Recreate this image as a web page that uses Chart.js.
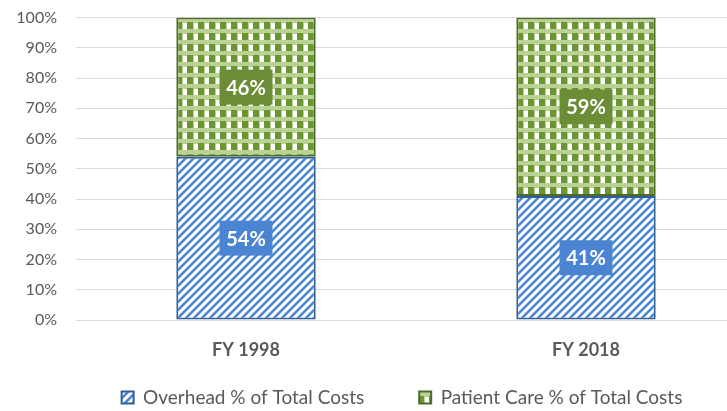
<!DOCTYPE html>
<html>
<head>
<meta charset="utf-8">
<script src="https://cdn.jsdelivr.net/npm/chart.js@4/dist/chart.umd.min.js"></script>
<style>
  html, body { margin: 0; padding: 0; background: #fff; overflow: hidden; }
  #wrap { width: 727px; height: 411px; overflow: hidden; }
</style>
</head>
<body>
<div id="wrap"><canvas id="costChart" width="756" height="411"></canvas></div>
<script>
// values
const years = ["FY 1998", "FY 2018"];
const overheadShare = [54, 41];
const patientCareShare = [46, 59];
const seriesNames = ["Overhead % of Total Costs", "Patient Care % of Total Costs"];

const FONT = "Lato, 'Open Sans', sans-serif";

// blue diagonal hatching
function stripePattern() {
  const c = document.createElement("canvas");
  c.width = 8; c.height = 8;
  const g = c.getContext("2d");
  g.fillStyle = "#ffffff";
  g.fillRect(0, 0, 8, 8);
  g.strokeStyle = "#4a86d0";
  g.lineWidth = 2.6;
  g.beginPath();
  g.moveTo(-2, 10); g.lineTo(10, -2);
  g.moveTo(-2, 2); g.lineTo(2, -2);
  g.moveTo(6, 10); g.lineTo(10, 6);
  g.stroke();
  return g.createPattern(c, "repeat");
}

// green checked pattern
function checkPattern() {
  const c = document.createElement("canvas");
  c.width = 11; c.height = 11;
  const g = c.getContext("2d");
  g.fillStyle = "#b9d293";
  g.fillRect(0, 0, 11, 11);
  g.fillStyle = "#6a9532";
  g.fillRect(0, 0, 6, 7);
  g.fillStyle = "#ffffff";
  g.fillRect(7, 1, 4, 6);
  return g.createPattern(c, "repeat");
}

// boxed percentage labels in the middle of each segment
const boxLabels = {
  id: "boxLabels",
  afterDatasetsDraw(chart) {
    const ctx = chart.ctx;
    chart.data.datasets.forEach((ds, i) => {
      const meta = chart.getDatasetMeta(i);
      meta.data.forEach((bar, j) => {
        const cy = (bar.y + bar.base) / 2;
        const w = 53, h = 35;
        ctx.save();
        ctx.fillStyle = ds.labelColor;
        ctx.fillRect(bar.x - w / 2, cy - h / 2, w, h);
        ctx.fillStyle = "#ffffff";
        ctx.font = "bold 20px " + FONT;
        ctx.textAlign = "center";
        ctx.textBaseline = "middle";
        ctx.fillText(ds.data[j] + "%", bar.x, cy + 1);
        ctx.restore();
      });
    });
  }
};

// legend: wide gap between items but a short box, and sitting right of centre
const legendShift = {
  id: "legendShift",
  afterLayout(chart) {
    const lg = chart.legend;
    const p = lg.options.labels.padding;
    lg.left += 20;
    lg.right += 20;
    lg.top -= p;
  }
};

const ctx = document.getElementById("costChart").getContext("2d");
const costChart = new Chart(ctx, {
  type: "bar",
  data: {
    labels: years,
    datasets: [
      {
        label: seriesNames[0],
        data: overheadShare,
        backgroundColor: stripePattern(),
        borderColor: "#2f5e9e",
        borderWidth: 2,
        borderSkipped: false,
        labelColor: "#4a84d2",
      },
      {
        label: seriesNames[1],
        data: patientCareShare,
        backgroundColor: checkPattern(),
        borderColor: "#4f6b2a",
        borderWidth: 2,
        borderSkipped: false,
        labelColor: "#6b8d35",
      },
    ],
  },
  options: {
    responsive: false,
    animation: false,
    categoryPercentage: 0.41,
    barPercentage: 1,
    layout: { padding: { top: 0, left: 8, right: 0, bottom: 0 } },
    scales: {
      x: {
        stacked: true,
        grid: { display: false },
        border: { display: false },
        ticks: { color: "#595959", font: { family: FONT, size: 18, weight: "bold" }, padding: 11 },
        afterFit(scale) { scale.height = 68; },
      },
      y: {
        stacked: true,
        min: 0,
        max: 100,
        ticks: {
          stepSize: 10,
          color: "#595959",
          font: { family: FONT, size: 16 },
          padding: 8,
          callback: (v) => v + "%",
        },
        grid: { color: "#d9d9d9", tickLength: 11, tickColor: "rgba(0,0,0,0)" },
        border: { display: false },
        afterFit(scale) { scale.width = 68; },
      },
    },
    plugins: {
      legend: {
        position: "bottom",
        maxHeight: 23,
        labels: {
          color: "#595959",
          font: { family: FONT, size: 19 },
          boxWidth: 12,
          boxHeight: 12,
          padding: 55,
        },
      },
      tooltip: { enabled: false },
    },
  },
  plugins: [boxLabels, legendShift],
});
</script>
</body>
</html>
